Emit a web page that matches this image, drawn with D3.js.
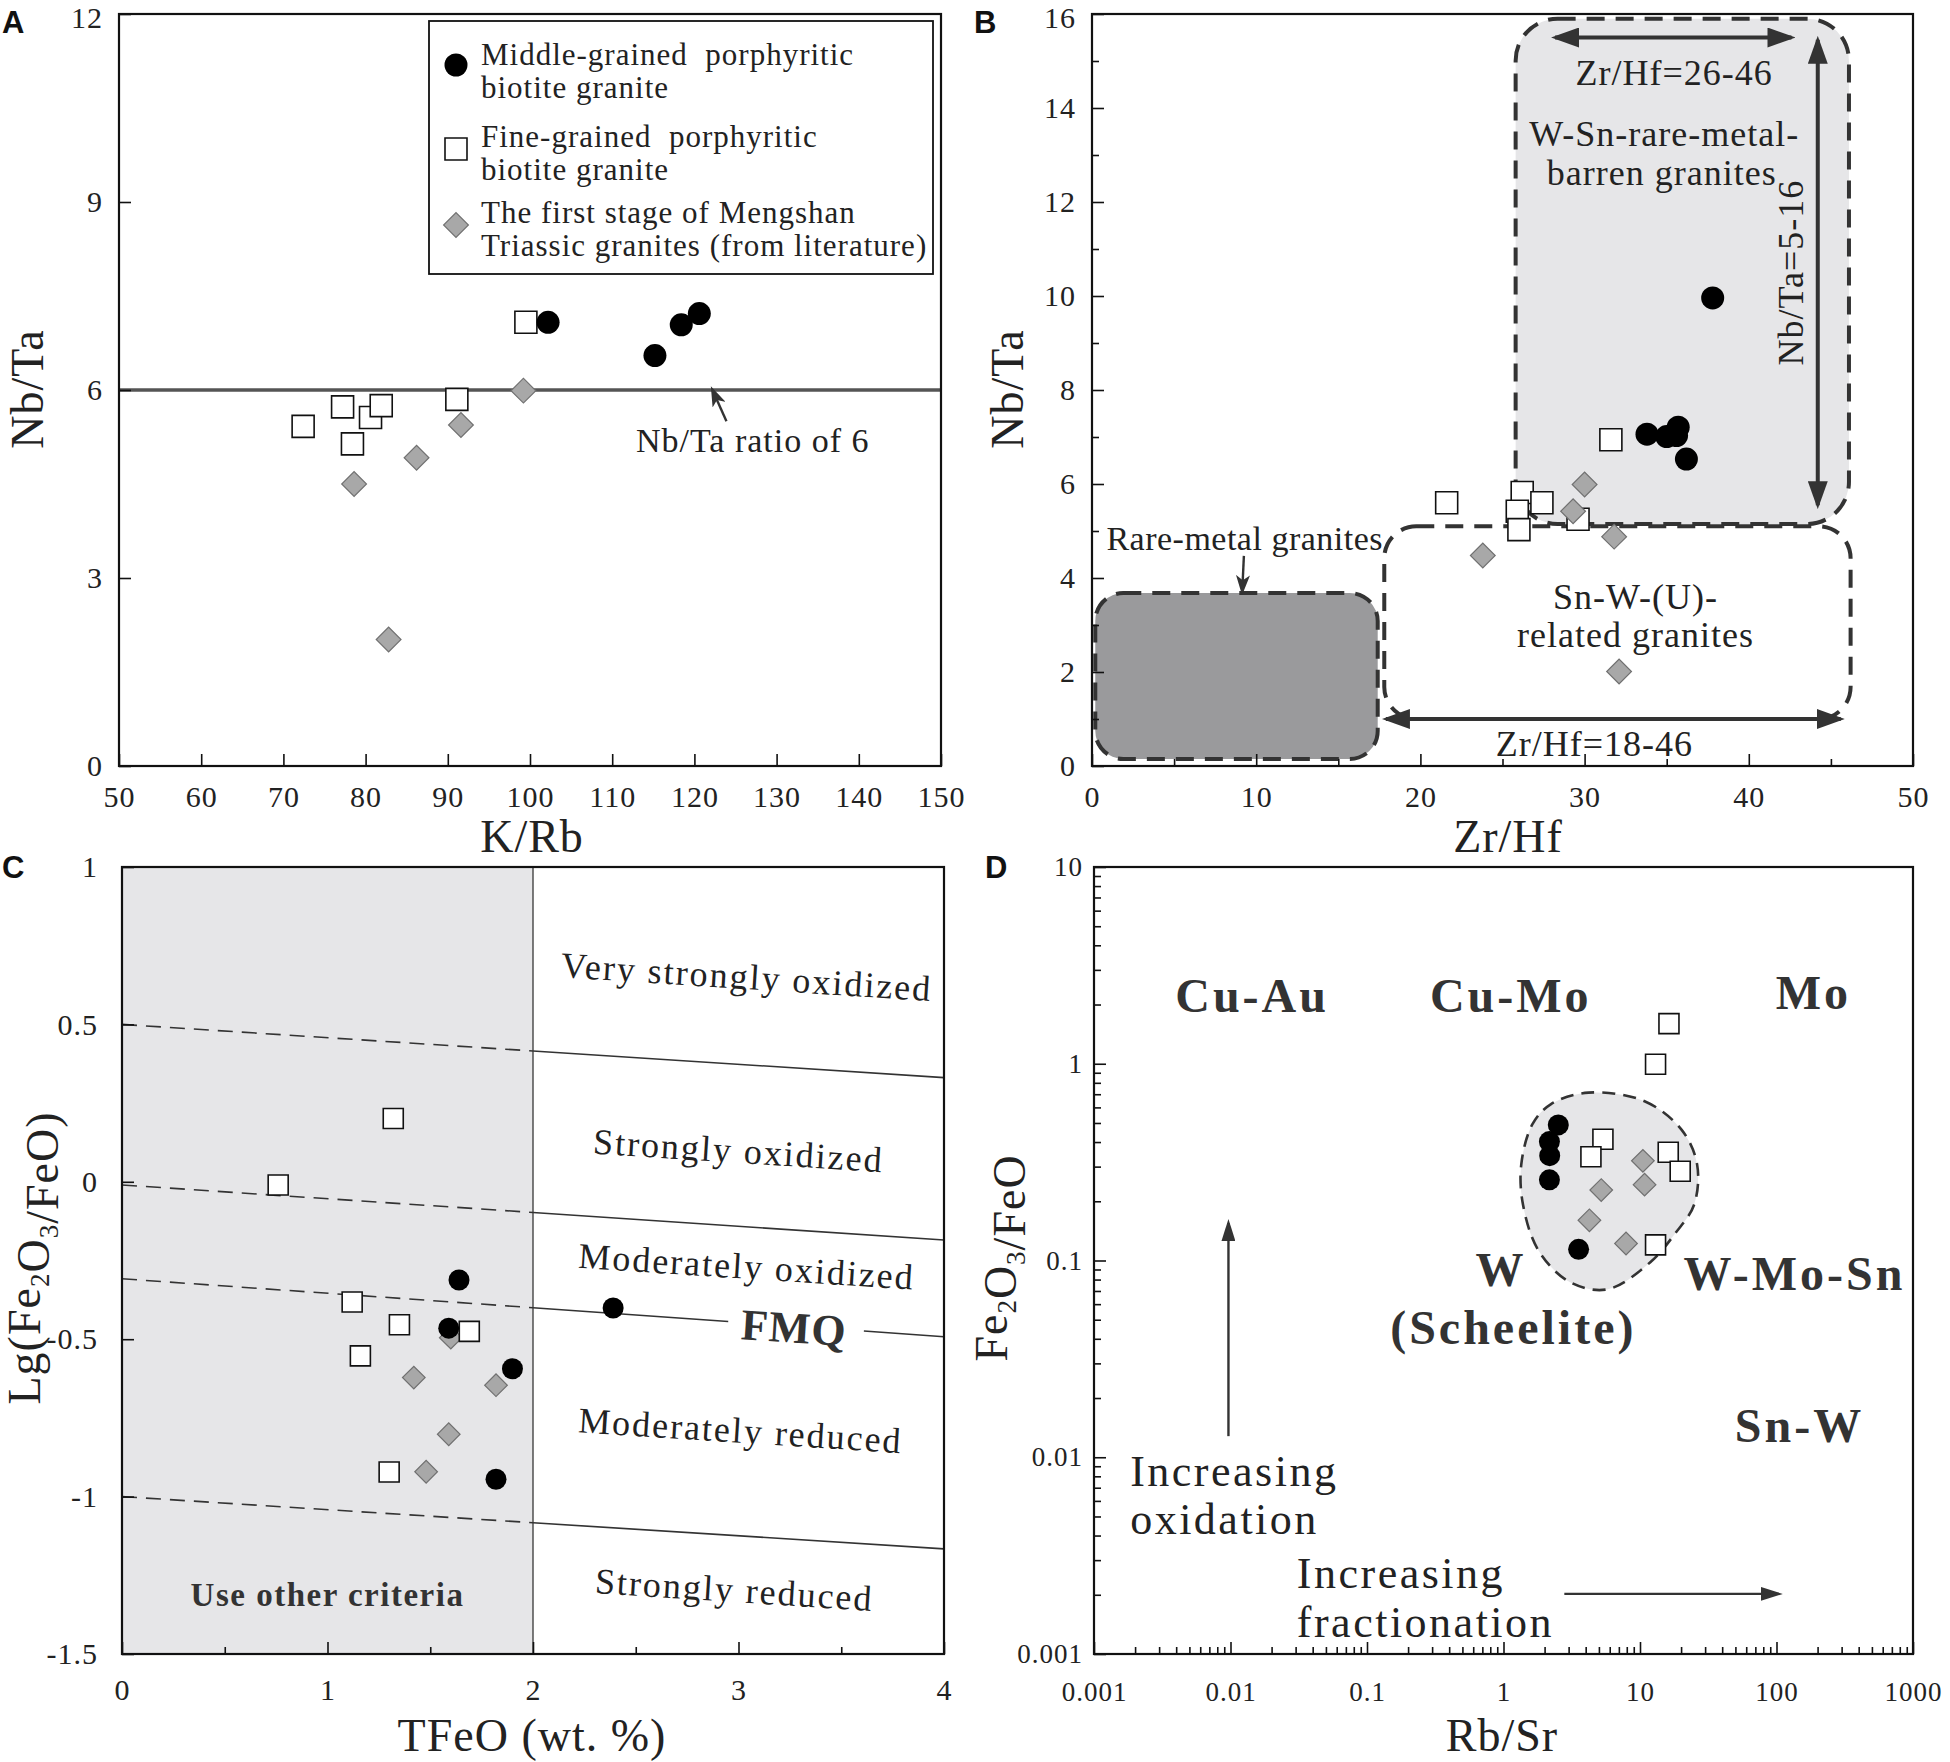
<!DOCTYPE html>
<html>
<head>
<meta charset="utf-8">
<title>Granite discrimination diagrams</title>
<script src="https://cdn.jsdelivr.net/npm/d3@7/dist/d3.min.js"></script>
<style>
  body { margin: 0; background: #fff; }
  svg text { font-family: "Liberation Serif", "Times New Roman", serif; fill: #222; }
  .axis text { font-size: 30px; letter-spacing: 1px; }
  .axis line { stroke: #111; stroke-width: 1.6; }
  .axis path { display: none; }
  .letter { font-family: "Liberation Sans", Arial, sans-serif; font-weight: bold; font-size: 31px; fill: #111; }
</style>
</head>
<body>
<svg id="fig" width="1950" height="1762"></svg>
<script>
// ---------- A : K/Rb vs Nb/Ta ----------
const aMiddle = [[102.2, 7.08], [115.2, 6.55], [118.4, 7.04], [120.6, 7.22]];
const aFine = [[99.5, 7.08], [72.4, 5.42], [77.2, 5.73], [80.6, 5.56], [81.9, 5.75], [78.4, 5.14], [91.1, 5.85]];
const aFirst = [[99.2, 5.99], [91.6, 5.44], [86.2, 4.92], [78.6, 4.50], [82.8, 2.02]];
const aXTicks = [50, 60, 70, 80, 90, 100, 110, 120, 130, 140, 150];
const aYTicks = [0, 3, 6, 9, 12];
const aRatioLine = 6;

// ---------- B : Zr/Hf vs Nb/Ta ----------
const bMiddle = [[33.8, 7.06], [35.0, 7.01], [35.6, 7.03], [35.7, 7.21], [36.2, 6.53], [37.8, 9.96]];
const bFine = [[31.6, 6.94], [21.6, 5.60], [26.2, 5.82], [25.9, 5.42], [27.4, 5.60], [26.0, 5.03], [29.6, 5.25]];
const bFirst = [[30.0, 5.99], [29.3, 5.42], [31.8, 4.88], [23.8, 4.48], [32.1, 2.01]];
const bXTicks = [0, 10, 20, 30, 40, 50];
const bYTicks = [0, 2, 4, 6, 8, 10, 12, 14, 16];
// fields: [Zr/Hf min, Zr/Hf max, Nb/Ta min, Nb/Ta max]
const bBarrenField = [25.8, 46.1, 5.15, 15.9];
const bSnWField = [17.8, 46.2, 1.0, 5.1];
const bRareField = [0.2, 17.4, 0.15, 3.68];

// ---------- C : TFeO vs Lg(Fe2O3/FeO) ----------
const cMiddle = [[1.64, -0.312], [2.39, -0.401], [1.59, -0.465], [1.90, -0.594], [1.82, -0.945]];
const cFine = [[1.32, 0.201], [0.76, -0.010], [1.12, -0.382], [1.35, -0.454], [1.16, -0.553], [1.69, -0.475], [1.30, -0.922]];
const cFirst = [[1.60, -0.495], [1.42, -0.622], [1.82, -0.646], [1.59, -0.802], [1.48, -0.921]];
const cXTicks = [0, 1, 2, 3, 4];
const cYTicks = [1, 0.5, 0, -0.5, -1, -1.5];
// oxidation-state boundaries: value at TFeO = 0 and TFeO = 4
const cBoundAt0 = [0.5, -0.01, -0.308, -1.0];
const cBoundAt4 = [0.331, -0.185, -0.492, -1.166];
const cCriteriaLimit = 2;

// ---------- D : Rb/Sr vs Fe2O3/FeO ----------
const dMiddle = [[2.52, 0.489], [2.17, 0.402], [2.18, 0.341], [2.17, 0.257], [3.55, 0.114]];
const dFine = [[16.3, 1.60], [13.0, 0.995], [5.35, 0.413], [4.37, 0.337], [16.1, 0.355], [19.7, 0.284], [13.0, 0.120]];
const dFirst = [[10.5, 0.321], [5.2, 0.228], [10.8, 0.243], [4.26, 0.160], [7.9, 0.122]];
const dXTicks = [0.001, 0.01, 0.1, 1, 10, 100, 1000];
const dYTicks = [0.001, 0.01, 0.1, 1, 10];
const dField = [[4.19, 0.713], [10.8, 0.645], [20.2, 0.461], [26.2, 0.308], [24.9, 0.192], [18.2, 0.138],
                [11.9, 0.098], [5.74, 0.0713], [3.05, 0.0778], [1.81, 0.112], [1.39, 0.192], [1.35, 0.308],
                [1.63, 0.493], [2.23, 0.624]];

const svg = d3.select("#fig");
const defs = svg.append("defs");

function marker(id, len, half, color, notch) {
  const back = notch ? len * 0.25 : 0;
  defs.append("marker").attr("id", id)
    .attr("viewBox", `0 ${-half} ${len} ${2 * half}`)
    .attr("refX", len - 4).attr("refY", 0)
    .attr("markerWidth", len).attr("markerHeight", 2 * half)
    .attr("markerUnits", "userSpaceOnUse")
    .attr("orient", "auto-start-reverse")
    .append("path")
    .attr("d", `M0,${-half}L${len},0L0,${half}L${back},0Z`)
    .attr("fill", color);
}
marker("headBig", 28, 10, "#333", false);
marker("headSmall", 20, 7, "#333", true);
marker("headThin", 22, 7, "#333", false);

function panel(box, x, y) {
  x.range([0, box.w]);
  y.range([box.h, 0]);
  return svg.append("g").attr("transform", `translate(${box.left},${box.top})`);
}

function axes(g, box, x, y, o) {
  const bx = g.append("g").attr("class", "axis").attr("transform", `translate(0,${box.h})`)
    .call(d3.axisBottom(x).tickValues(o.xTicks).tickFormat(o.fmt).tickSize(-12).tickPadding(o.padX));
  const ly = g.append("g").attr("class", "axis")
    .call(d3.axisLeft(y).tickValues(o.yTicks).tickFormat(o.fmt).tickSize(-12).tickPadding(o.padY));
  if (o.xMinor) {
    g.append("g").attr("class", "axis").attr("transform", `translate(0,${box.h})`)
      .call(d3.axisBottom(x).tickValues(o.xMinor).tickFormat("").tickSize(-7));
  }
  if (o.yMinor) {
    g.append("g").attr("class", "axis")
      .call(d3.axisLeft(y).tickValues(o.yMinor).tickFormat("").tickSize(-7));
  }
  if (o.fontSize) {
    bx.selectAll("text").style("font-size", o.fontSize + "px");
    ly.selectAll("text").style("font-size", o.fontSize + "px");
  }
  // keep the topmost y label inside the page for the upper panels
  if (o.nudgeTop) ly.selectAll("text").filter(d => d === d3.max(o.yTicks)).attr("dy", "0.45em");
  g.append("rect").attr("width", box.w).attr("height", box.h)
    .attr("fill", "none").attr("stroke", "#111").attr("stroke-width", 2.2);
}

function points(g, data, kind, x, y, s) {
  const sel = g.append("g").selectAll("path").data(data).join("path")
    .attr("transform", d => `translate(${x(d[0])},${y(d[1])})` + (kind === "diamond" ? " rotate(45)" : ""));
  if (kind === "circle") {
    sel.attr("d", d3.symbol(d3.symbolCircle, Math.PI * s.r * s.r)).attr("fill", "#000");
  } else if (kind === "square") {
    sel.attr("d", d3.symbol(d3.symbolSquare, s.sq * s.sq)).attr("fill", "#fff")
      .attr("stroke", "#111").attr("stroke-width", 1.6);
  } else {
    sel.attr("d", d3.symbol(d3.symbolSquare, s.dm * s.dm)).attr("fill", "#a8a8a8")
      .attr("stroke", "#707070").attr("stroke-width", 1.2);
  }
}

function label(g, txt, px, py, size, o = {}) {
  const t = g.append("text").attr("x", px).attr("y", py).attr("dy", "0.35em")
    .attr("text-anchor", o.anchor || "middle")
    .style("font-size", size + "px")
    .style("letter-spacing", (o.ls || 0) + "px");
  if (o.bold) t.style("font-weight", "bold");
  if (o.rotate) t.attr("transform", `rotate(${o.rotate},${px},${py})`);
  if (o.fill) t.style("fill", o.fill);
  t.text(txt);
  return t;
}

function arrow(g, x1, y1, x2, y2, head, width, both) {
  const l = g.append("line").attr("x1", x1).attr("y1", y1).attr("x2", x2).attr("y2", y2)
    .attr("stroke", "#333").attr("stroke-width", width)
    .attr("marker-end", `url(#${head})`);
  if (both) l.attr("marker-start", `url(#${head})`);
}

const bigSym = { r: 11.5, sq: 22, dm: 17.5 };
const smallSym = { r: 10.5, sq: 20, dm: 16 };
const plain = d => String(d);

// ================= Panel A =================
const boxA = { left: 119, top: 14, w: 822, h: 752 };
const ax = d3.scaleLinear().domain([50, 150]);
const ay = d3.scaleLinear().domain([0, 12]);
const gA = panel(boxA, ax, ay);

gA.append("line").attr("x1", 0).attr("x2", boxA.w).attr("y1", ay(aRatioLine)).attr("y2", ay(aRatioLine))
  .attr("stroke", "#555").attr("stroke-width", 3.6);
arrow(gA, ax(123.9), ay(5.5), ax(122.2), ay(6.0), "headSmall", 2.4, false);
label(gA, "Nb/Ta ratio of 6", ax(127.1), ay(5.2), 34, { ls: 1 });

points(gA, aFine, "square", ax, ay, bigSym);
points(gA, aMiddle, "circle", ax, ay, bigSym);
points(gA, aFirst, "diamond", ax, ay, bigSym);

// legend
const leg = gA.append("g").attr("transform", "translate(310,7)");
leg.append("rect").attr("width", 504).attr("height", 253).attr("fill", "#fff")
  .attr("stroke", "#111").attr("stroke-width", 1.8);
const legendItems = [
  { kind: "circle", y: 44, lines: ["Middle-grained  porphyritic", "biotite granite"], ty: [33, 66] },
  { kind: "square", y: 128, lines: ["Fine-grained  porphyritic", "biotite granite"], ty: [115, 148] },
  { kind: "diamond", y: 204, lines: ["The first stage of Mengshan", "Triassic granites (from literature)"], ty: [191, 224] }
];
legendItems.forEach(it => {
  points(leg, [[0, 0]], it.kind, v => 27, v => it.y, bigSym);
  it.lines.forEach((s, i) => {
    leg.append("text").attr("x", 52).attr("y", it.ty[i]).attr("dy", "0.35em")
      .attr("xml:space", "preserve").style("white-space", "pre")
      .style("font-size", "31px").style("letter-spacing", "1px").text(s);
  });
});

axes(gA, boxA, ax, ay, { xTicks: aXTicks, yTicks: aYTicks, fmt: plain, padX: 20, padY: 16, nudgeTop: true });

// ================= Panel B =================
const boxB = { left: 1092, top: 14, w: 821, h: 752 };
const bx = d3.scaleLinear().domain([0, 50]);
const by = d3.scaleLinear().domain([0, 16]);
const gB = panel(boxB, bx, by);

function field(g, f, r, fill) {
  g.append("rect").attr("x", bx(f[0])).attr("y", by(f[3]))
    .attr("width", bx(f[1]) - bx(f[0])).attr("height", by(f[2]) - by(f[3]))
    .attr("rx", r).attr("ry", r)
    .attr("fill", fill).attr("stroke", "#333").attr("stroke-width", 4)
    .attr("stroke-dasharray", "18,11");
}
field(gB, bBarrenField, 42, "#e6e6e8");
field(gB, bSnWField, 32, "none");
field(gB, bRareField, 28, "#9a9a9c");

arrow(gB, bx(28.2), by(15.5), bx(42.6), by(15.5), "headBig", 4, true);
arrow(gB, bx(44.2), by(15.45), bx(44.2), by(5.55), "headBig", 4, true);
arrow(gB, bx(17.9), by(1.0), bx(45.6), by(1.0), "headBig", 4, true);
arrow(gB, bx(9.25), by(4.47), bx(9.15), by(3.72), "headSmall", 2.4, false);

label(gB, "Zr/Hf=26-46", bx(35.45), by(14.75), 36, { ls: 1 });
label(gB, "W-Sn-rare-metal-", bx(34.85), by(13.45), 36, { ls: 1 });
label(gB, "barren granites", bx(34.7), by(12.63), 36, { ls: 1 });
label(gB, "Nb/Ta=5-16", bx(42.55), by(10.5), 36, { ls: 1, rotate: -90 });
label(gB, "Rare-metal granites", bx(9.3), by(4.85), 34, { ls: 0.5 });
label(gB, "Sn-W-(U)-", bx(33.1), by(3.6), 36, { ls: 1 });
label(gB, "related granites", bx(33.1), by(2.8), 36, { ls: 1 });
label(gB, "Zr/Hf=18-46", bx(30.6), by(0.48), 36, { ls: 1 });

points(gB, bFine, "square", bx, by, bigSym);
points(gB, bMiddle, "circle", bx, by, bigSym);
points(gB, bFirst, "diamond", bx, by, bigSym);

axes(gB, boxB, bx, by, {
  xTicks: bXTicks, yTicks: bYTicks, fmt: plain, padX: 20, padY: 16, nudgeTop: true,
  xMinor: d3.range(5, 50, 10), yMinor: d3.range(1, 16, 2)
});

// ================= Panel C =================
const boxC = { left: 122, top: 867, w: 822, h: 787 };
const cx = d3.scaleLinear().domain([0, 4]);
const cy = d3.scaleLinear().domain([-1.5, 1]);
const gC = panel(boxC, cx, cy);

gC.append("rect").attr("x", 0).attr("y", 0).attr("width", cx(cCriteriaLimit)).attr("height", boxC.h)
  .attr("fill", "#e6e6e8");
gC.append("line").attr("x1", cx(cCriteriaLimit)).attr("x2", cx(cCriteriaLimit)).attr("y1", 0).attr("y2", boxC.h)
  .attr("stroke", "#444").attr("stroke-width", 1.4);

const along = (i, t) => cBoundAt0[i] + (cBoundAt4[i] - cBoundAt0[i]) * t / 4;
function seg(i, t0, t1, dashed) {
  gC.append("line").attr("x1", cx(t0)).attr("y1", cy(along(i, t0)))
    .attr("x2", cx(t1)).attr("y2", cy(along(i, t1)))
    .attr("stroke", "#333").attr("stroke-width", 1.6)
    .attr("stroke-dasharray", dashed ? "15,9" : null);
}
cBoundAt0.forEach((v, i) => {
  seg(i, 0, cCriteriaLimit, true);
  if (i === 2) { seg(i, cCriteriaLimit, 2.95, false); seg(i, 3.61, 4, false); }
  else seg(i, cCriteriaLimit, 4, false);
});
const tilt = Math.atan2(cy(cBoundAt4[0]) - cy(cBoundAt0[0]), cx(4) - cx(0)) * 180 / Math.PI;

label(gC, "Very strongly oxidized", cx(3.04), cy(0.652), 36, { ls: 2, rotate: tilt });
label(gC, "Strongly oxidized", cx(3.0), cy(0.10), 36, { ls: 2, rotate: tilt });
label(gC, "Moderately oxidized", cx(3.04), cy(-0.268), 36, { ls: 2, rotate: tilt });
label(gC, "FMQ", cx(3.27), cy(-0.462), 44, { bold: true, ls: 1, rotate: tilt, fill: "#333" });
label(gC, "Moderately reduced", cx(3.01), cy(-0.789), 36, { ls: 2, rotate: tilt });
label(gC, "Strongly reduced", cx(2.98), cy(-1.295), 36, { ls: 2, rotate: tilt });
label(gC, "Use other criteria", cx(1.0), cy(-1.31), 33, { bold: true, ls: 1.5, fill: "#333" });

points(gC, cFirst, "diamond", cx, cy, smallSym);
points(gC, cFine, "square", cx, cy, smallSym);
points(gC, cMiddle, "circle", cx, cy, smallSym);

axes(gC, boxC, cx, cy, {
  xTicks: cXTicks, yTicks: cYTicks, fmt: plain, padX: 25, padY: 24,
  xMinor: [0.5, 1.5, 2.5, 3.5]
});

// ================= Panel D =================
const boxD = { left: 1094, top: 867, w: 819, h: 787 };
const dx = d3.scaleLog().domain([0.001, 1000]);
const dy = d3.scaleLog().domain([0.001, 10]);
const gD = panel(boxD, dx, dy);

gD.append("path")
  .attr("d", d3.line().x(d => dx(d[0])).y(d => dy(d[1])).curve(d3.curveCatmullRomClosed.alpha(0.5))(dField))
  .attr("fill", "#e6e6e8").attr("stroke", "#333").attr("stroke-width", 2.6)
  .attr("stroke-dasharray", "13,8");

label(gD, "Cu-Au", dx(0.0144), dy(2.23), 48, { bold: true, ls: 3, fill: "#333" });
label(gD, "Cu-Mo", dx(1.13), dy(2.23), 48, { bold: true, ls: 3, fill: "#333" });
label(gD, "Mo", dx(186), dy(2.30), 48, { bold: true, ls: 3, fill: "#333" });
label(gD, "W", dx(0.957), dy(0.0898), 48, { bold: true, ls: 3, fill: "#333" });
label(gD, "(Scheelite)", dx(1.18), dy(0.0459), 48, { bold: true, ls: 3, fill: "#333" });
label(gD, "W-Mo-Sn", dx(135.5), dy(0.0859), 48, { bold: true, ls: 3, fill: "#333" });
label(gD, "Sn-W", dx(147.5), dy(0.01455), 48, { bold: true, ls: 3, fill: "#333" });

label(gD, "Increasing", dx(0.00184), dy(0.0086), 44, { anchor: "start", ls: 2.5 });
label(gD, "oxidation", dx(0.00184), dy(0.00489), 44, { anchor: "start", ls: 2.5 });
label(gD, "Increasing", dx(0.0306), dy(0.00258), 44, { anchor: "start", ls: 2.5 });
label(gD, "fractionation", dx(0.0306), dy(0.00146), 44, { anchor: "start", ls: 2.5 });
arrow(gD, dx(0.00966), dy(0.0128), dx(0.00966), dy(0.155), "headThin", 2.4, false);
arrow(gD, dx(2.79), dy(0.00202), dx(104), dy(0.00202), "headThin", 2.4, false);

points(gD, dFine, "square", dx, dy, smallSym);
points(gD, dFirst, "diamond", dx, dy, smallSym);
points(gD, dMiddle, "circle", dx, dy, smallSym);

const logMinor = dom => {
  const out = [];
  for (let e = Math.log10(dom[0]); e < Math.log10(dom[1]); e++)
    for (let k = 2; k <= 9; k++) out.push(k * Math.pow(10, e));
  return out;
};
axes(gD, boxD, dx, dy, {
  xTicks: dXTicks, yTicks: dYTicks, fmt: d3.format("~g"), padX: 28, padY: 11, fontSize: 27,
  xMinor: logMinor(dx.domain()), yMinor: logMinor(dy.domain())
});

// ================= titles & panel letters =================
function axisTitle(x, y, rot, parts) {
  const t = svg.append("text").attr("text-anchor", "middle").attr("dy", "0.35em")
    .attr("transform", `translate(${x},${y})` + (rot ? " rotate(-90)" : ""))
    .style("font-size", "46px").style("letter-spacing", "1px");
  parts.forEach(p => {
    if (typeof p === "object") {
      t.append("tspan").attr("dy", 9).style("font-size", "27px").text(p.sub);
      t.append("tspan").attr("dy", -9).text("");
    } else {
      t.append("tspan").text(p);
    }
  });
}
axisTitle(532, 836, false, ["K/Rb"]);
axisTitle(27, 389, true, ["Nb/Ta"]);
axisTitle(1508, 836, false, ["Zr/Hf"]);
axisTitle(1007, 389, true, ["Nb/Ta"]);
axisTitle(532, 1735, false, ["TFeO (wt. %)"]);
axisTitle(24, 1258, true, ["Lg(Fe", { sub: "2" }, "O", { sub: "3" }, "/FeO)"]);
axisTitle(1502, 1735, false, ["Rb/Sr"]);
axisTitle(991, 1258, true, ["Fe", { sub: "2" }, "O", { sub: "3" }, "/FeO"]);

[["A", 2, 33], ["B", 974, 33], ["C", 2, 878], ["D", 985, 878]].forEach(([s, x, y]) => {
  svg.append("text").attr("class", "letter").attr("x", x).attr("y", y).text(s);
});
</script>
</body>
</html>
